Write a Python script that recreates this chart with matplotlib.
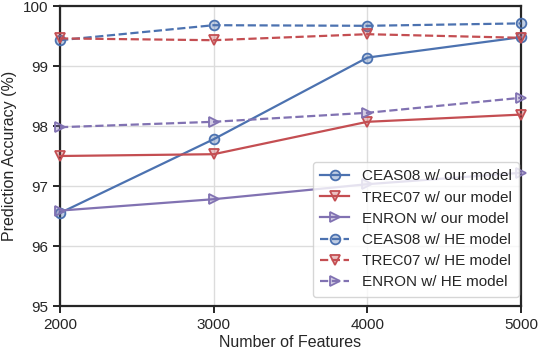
import matplotlib
matplotlib.use("Agg")
import matplotlib.pyplot as plt
from matplotlib.colors import to_rgba

features = [2000, 3000, 4000, 5000]
ceas_ours = [96.55, 97.78, 99.14, 99.48]
trec_ours = [97.50, 97.53, 98.07, 98.19]
enron_ours = [96.59, 96.78, 97.03, 97.22]
ceas_he = [99.43, 99.68, 99.67, 99.71]
trec_he = [99.46, 99.43, 99.53, 99.47]
enron_he = [97.98, 98.07, 98.22, 98.47]

labels = ["CEAS08 w/ our model", "TREC07 w/ our model", "ENRON w/ our model",
          "CEAS08 w/ HE model", "TREC07 w/ HE model", "ENRON w/ HE model"]
xticks = [2000, 3000, 4000, 5000]
yticks = [95, 96, 97, 98, 99, 100]

plt.rcParams['font.family'] = ['Liberation Sans', 'DejaVu Sans']

blue = "#4C72B0"
red = "#C44E52"
purple = "#8172B2"

fig = plt.figure(figsize=(5.38, 3.52), dpi=100)
ax = fig.add_axes([60/538, 1-306/352, 461/538, 300/352])

series = [
    (ceas_ours, blue, 'o', '-'),
    (trec_ours, red, 'v', '-'),
    (enron_ours, purple, '>', '-'),
    (ceas_he, blue, 'o', '--'),
    (trec_he, red, 'v', '--'),
    (enron_he, purple, '>', '--'),
]
for (vals, c, m, ls), lab in zip(series, labels):
    ax.plot(features, vals, color=c, marker=m, linestyle=ls, lw=1.6,
            markersize=7, markerfacecolor=to_rgba(c, 0.35), markeredgecolor=c,
            markeredgewidth=1.3, label=lab, clip_on=False, zorder=3)

ax.set_xlim(2000, 5000)
ax.set_ylim(95, 100)
ax.set_xticks(xticks)
ax.set_yticks(yticks)
ax.grid(True, color="#dcdcdc", lw=1.0)
ax.set_axisbelow(True)
for s in ax.spines.values():
    s.set_linewidth(1.6)
    s.set_color("#262626")
ax.tick_params(direction='out', length=5, width=1.4, labelsize=11, colors="#262626")
ax.set_xlabel("Number of Features", fontsize=11.5, color="#262626", labelpad=2)
ax.set_ylabel("Prediction Accuracy (%)", fontsize=11.5, color="#262626", labelpad=4)

leg = ax.legend(loc='lower right', fontsize=11, frameon=True, borderpad=0.5,
                handlelength=1.9, labelspacing=0.47, borderaxespad=0,
                bbox_to_anchor=(0.996, 0.03))
leg.get_frame().set_edgecolor("#cccccc")
leg.get_frame().set_linewidth(1.0)
for t in leg.get_texts():
    t.set_color("#262626")

fig.savefig("out.png", dpi=100)
